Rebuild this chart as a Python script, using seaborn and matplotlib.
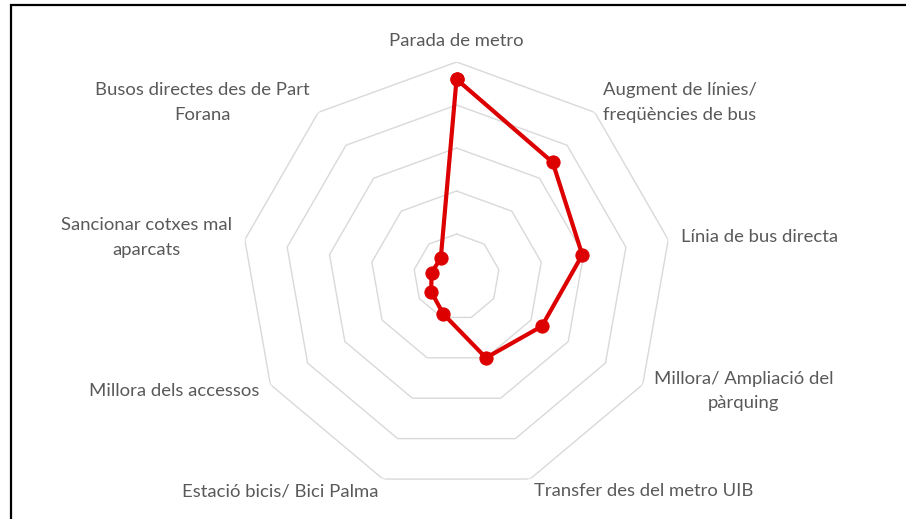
import numpy as np
import pandas as pd
import seaborn as sns
import matplotlib.pyplot as plt
from matplotlib.patches import Rectangle

categories = [
    "Parada de metro",
    "Augment de línies/\nfreqüències de bus",
    "Línia de bus directa",
    "Millora/ Ampliació del\npàrquing",
    "Transfer des del metro UIB",
    "Estació bicis/ Bici Palma",
    "Millora dels accessos",
    "Sancionar cotxes mal\naparcats",
    "Busos directes des de Part\nForana",
]
values = [4.6, 3.48, 2.97, 2.29, 2.0, 0.91, 0.68, 0.59, 0.57]
rings = [1, 2, 3, 4, 5]

sns.set_style("white")
plt.rcParams['font.family'] = ['Lato', 'DejaVu Sans']

n = len(categories)
theta = np.linspace(0, 2 * np.pi, n, endpoint=False)

fig = plt.figure(figsize=(9.06, 5.19), dpi=100)
ax = fig.add_axes([0.2666, 0.052, 0.4746, 0.8285], projection='polar')
ax.set_theta_zero_location('N')
ax.set_theta_direction(-1)
ax.set_ylim(0, 5)
ax.grid(False)
ax.set_xticks([])
ax.set_yticks([])
ax.spines['polar'].set_visible(False)
ax.patch.set_alpha(0)

# nonagon grid rings
th_closed = np.append(theta, theta[0])
for r in rings:
    ax.plot(th_closed, [r] * len(th_closed), color='#d9d9d9', lw=1.0, zorder=1)

df = pd.DataFrame({"theta": np.append(theta, 2 * np.pi),
                   "value": values + [values[0]]})
sns.lineplot(data=df, x="theta", y="value", sort=False, estimator=None,
             color='#dc0000', lw=3.0, marker='o', markersize=9.5,
             markeredgecolor='#dc0000', ax=ax, zorder=3)
ax.set_xlabel('')
ax.set_ylabel('')

# category labels outside the outer ring
r_lab = 5.3
for t, lab in zip(theta, categories):
    s = np.sin(t)
    if abs(s) < 1e-6:
        ha, va = 'center', 'bottom'
    elif s > 0:
        ha, va = 'left', 'center'
    else:
        ha, va = 'right', 'center'
    ax.text(t, r_lab, lab, ha=ha, va=va, multialignment='center',
            fontsize=13.3, color='#595959', linespacing=1.65, clip_on=False)

# picture frame (top and left edges visible)
fig.add_artist(Rectangle((11 / 906, -0.1), 1.2, 1 - 5 / 519 + 0.1,
                         transform=fig.transFigure, fill=False,
                         edgecolor='black', lw=1.6, clip_on=False))

fig.savefig('out.png', dpi=100)
